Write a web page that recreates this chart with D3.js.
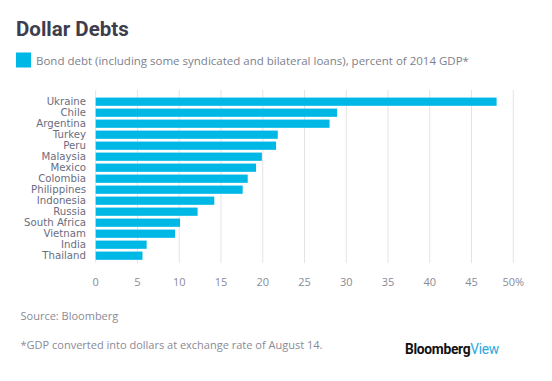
<!DOCTYPE html>
<html><head><meta charset="utf-8">
<script src="https://cdn.jsdelivr.net/npm/d3@7"></script>
<style>body{margin:0;background:#fff;}svg{display:block;font-family:"Open Sans","Liberation Sans",sans-serif;}</style>
</head><body><svg id="c" width="552" height="381"></svg>
<script>
const countries = ["Ukraine","Chile","Argentina","Turkey","Peru","Malaysia","Mexico","Colombia","Philippines","Indonesia","Russia","South Africa","Vietnam","India","Thailand"];
const values = [48.0,28.9,28.0,21.8,21.6,19.9,19.2,18.2,17.6,14.2,12.2,10.1,9.5,6.1,5.6];
const tickValues = [0,5,10,15,20,25,30,35,40,45,50];
const tickLabels = ["0","5","10","15","20","25","30","35","40","45","50%"];

const svg = d3.select("#c");
const x = d3.scaleLinear().domain([0,50]).range([95.7,513.3]);
const y = d3.scaleBand().domain(countries).range([96.2,261.2]).paddingInner(0.25).paddingOuter(0.125);

// gridlines
svg.append("g").selectAll("line").data(tickValues).join("line")
  .attr("x1",d=>x(d)).attr("x2",d=>x(d)).attr("y1",90).attr("y2",263)
  .attr("stroke","#e4e4e8").attr("stroke-width",1);

// bars
svg.append("g").selectAll("rect").data(countries).join("rect")
  .attr("x",x(0)).attr("y",d=>y(d))
  .attr("width",(d,i)=>x(values[i])-x(0)).attr("height",y.bandwidth())
  .attr("fill","#00b8e6");

// category labels
svg.append("g").selectAll("text").data(countries).join("text")
  .attr("x",86).attr("y",d=>y(d)+y.bandwidth()/2).attr("dy","0.36em")
  .attr("text-anchor","end").attr("font-size",10.2).attr("font-family","'DejaVu Sans', sans-serif")
  .attr("fill","#6b6d80").text(d=>d);

// x axis labels
svg.append("g").selectAll("text").data(tickValues).join("text")
  .attr("x",d=>x(d)).attr("y",286).attr("text-anchor","middle")
  .attr("font-size",11).attr("fill","#8a8a96").text((d,i)=>tickLabels[i]);

// title
svg.append("text").attr("x",16).attr("y",36).attr("font-size",20.5).attr("font-weight","bold")
  .attr("fill","#3d3d4e").attr("font-family","Roboto, 'Open Sans', sans-serif").text("Dollar Debts");

// legend
svg.append("rect").attr("x",16).attr("y",52.5).attr("width",15).attr("height",15).attr("fill","#00b8e6");
svg.append("text").attr("x",36).attr("y",64.5).attr("font-size",11.5).attr("fill","#7d7f8c")
  .text("Bond debt (including some syndicated and bilateral loans), percent of 2014 GDP*");

// footer
svg.append("text").attr("x",20.5).attr("y",320).attr("font-size",11).attr("fill","#8a8a96").text("Source: Bloomberg");
svg.append("text").attr("x",20.5).attr("y",349).attr("font-size",11).attr("fill","#8a8a96").text("*GDP converted into dollars at exchange rate of August 14.");
const logo = svg.append("text").attr("x",405).attr("y",354).attr("font-size",13.8).attr("font-weight","bold")
  .attr("font-family","Roboto, 'Open Sans', sans-serif").attr("letter-spacing",-0.3);
logo.append("tspan").attr("fill","#111").text("Bloomberg");
logo.append("tspan").attr("fill","#2aa8e0").attr("font-weight","normal").text("View");
</script></body></html>
